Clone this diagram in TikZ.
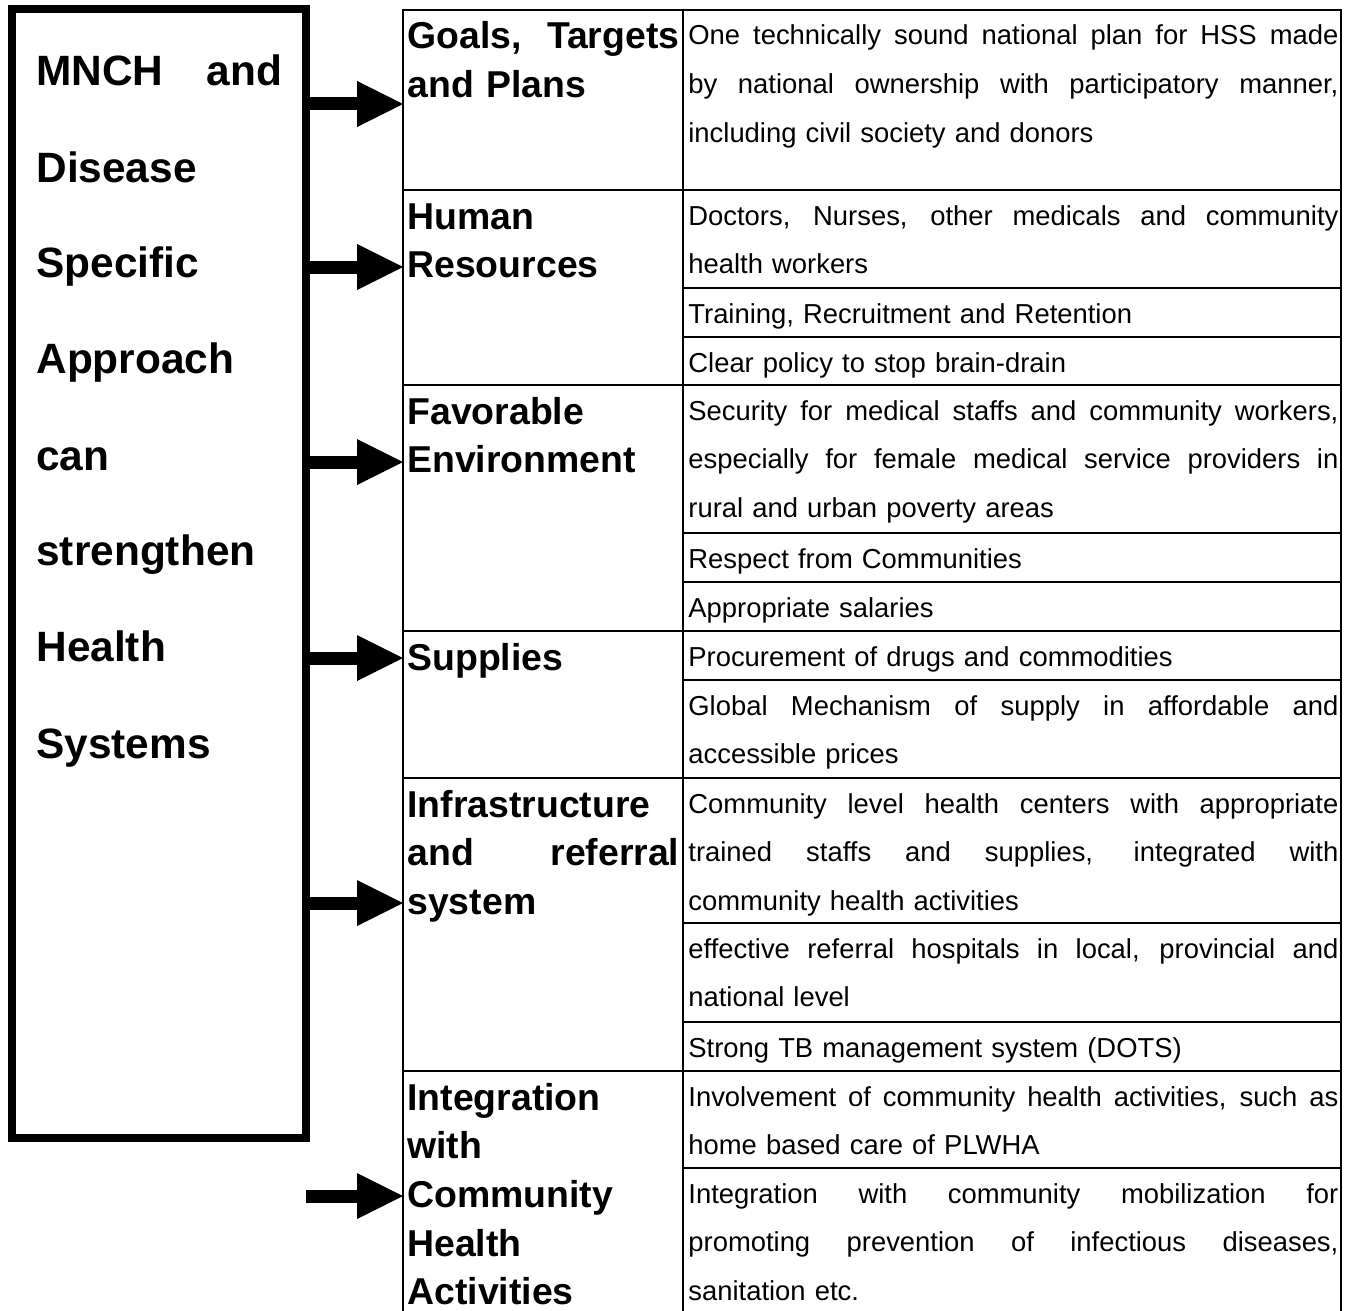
\documentclass[tikz,border=0pt]{standalone}
\usepackage{fontspec}
\setmainfont{Liberation Sans}
\usepackage{tikz}
\usetikzlibrary{
	arrows.meta
}
\newcommand{\spreadline}[2][325pt]{\leavevmode\hbox to #1{%
	\spaceskip=\fontdimen2\font plus 1fil\xspaceskip=\spaceskip\relax #2}}

\begin{document}
\begin{tikzpicture}[x=0.5pt,y=-0.5pt,
		boxtext/.style={anchor=base west,inner sep=0pt,align=left,text width=123pt,
			font=\fontsize{21.2}{48}\selectfont\bfseries},
		headtext/.style={anchor=base west,inner sep=0pt,align=left,text width=136.5pt,
			font=\fontsize{18.7}{24.35}\selectfont\bfseries},
		celltext/.style={anchor=base west,inner sep=0pt,align=left,text width=325pt,
			font=\fontsize{13.7}{24.35}\selectfont},
		rule/.style={line width=1.25pt},
		bigarrow/.style={line width=6.5pt,-{Triangle[length=23pt,width=23pt,line width=0pt]}}
	]
		\useasboundingbox (0,0) rectangle (1354,1311);

		% left box
		\node[draw,line width=4pt,inner sep=0pt,outer sep=0pt,
			minimum width=147pt,minimum height=564.5pt] (mnch) at (159,573.5) {};
		\node[boxtext] (mnchtext) at (36,86)
			{\spreadline[123pt]{MNCH and}\\ Disease\\ Specific\\ Approach\\ can\\ strengthen\\ Health\\ Systems};

		% table grid
		\draw[rule] (403,1315) -- (403,10) -- (1341,10) -- (1341,1315);
		\draw[rule] (683,10) -- (683,1315);
		\foreach \y in {190,385,631,778,1071}
			\draw[rule] (403,\y) -- (1341,\y);
		\foreach \y in {288,337,533,582,680,923,1022,1168}
			\draw[rule] (683,\y) -- (1341,\y);

		% left column
		\node[headtext] (goals) at (407,49)   {\spreadline[136pt]{Goals, Targets}\\ and Plans};
		\node[headtext] (hr)    at (407,229)  {Human\\ Resources};
		\node[headtext] (env)   at (407,424)  {Favorable\\ Environment};
		\node[headtext] (supp)  at (407,670)  {Supplies};
		\node[headtext] (infra) at (407,817)  {Infrastructure\\ \spreadline[136pt]{and referral}\\ system};
		\node[headtext] (integ) at (407,1110) {Integration\\ with\\ Community\\ Health\\ Activities};

		% right column
		\node[celltext] (plan) at (688,45)
			{\spreadline{One technically sound national plan for HSS made}\\
			 \spreadline{by national ownership with participatory manner,}\\
			 including civil society and donors};
		\node[celltext] (doctors)  at (688,225)  {\spreadline{Doctors, Nurses, other medicals and community}\\ health workers};
		\node[celltext] (training) at (688,323)  {Training, Recruitment and Retention};
		\node[celltext] (brain)    at (688,372)  {Clear policy to stop brain-drain};
		\node[celltext] (security) at (688,420)
			{\spreadline{Security for medical staffs and community workers,}\\
			 \spreadline{especially for female medical service providers in}\\
			 rural and urban poverty areas};
		\node[celltext] (respect)  at (688,568)  {Respect from Communities};
		\node[celltext] (salaries) at (688,617)  {Appropriate salaries};
		\node[celltext] (procure)  at (688,666)  {Procurement of drugs and commodities};
		\node[celltext] (global)   at (688,715)  {\spreadline{Global Mechanism of supply in affordable and}\\ accessible prices};
		\node[celltext] (centers)  at (688,813)
			{\spreadline{Community level health centers with appropriate}\\
			 \spreadline{trained staffs and supplies, integrated with}\\
			 community health activities};
		\node[celltext] (referral) at (688,958)  {\spreadline{effective referral hospitals in local, provincial and}\\ national level};
		\node[celltext] (dots)     at (688,1057) {Strong TB management system (DOTS)};
		\node[celltext] (involve)  at (688,1106) {\spreadline{Involvement of community health activities, such as}\\ home based care of PLWHA};
		\node[celltext] (mobil)    at (688,1203)
			{\spreadline{Integration with community mobilization for}\\
			 \spreadline{promoting prevention of infectious diseases,}\\
			 sanitation etc.};

		% arrows
		\coordinate (tgoals) at (403,104);
		\coordinate (thr)    at (403,267);
		\coordinate (tenv)   at (403,462);
		\coordinate (tsupp)  at (403,658);
		\coordinate (tinfra) at (403,903);
		\coordinate (tinteg) at (403,1196);
		\foreach \t in {tgoals,thr,tenv,tsupp,tinfra,tinteg}
			\draw[bigarrow] (mnch.east |- \t) -- (\t);
\end{tikzpicture}
\end{document}
